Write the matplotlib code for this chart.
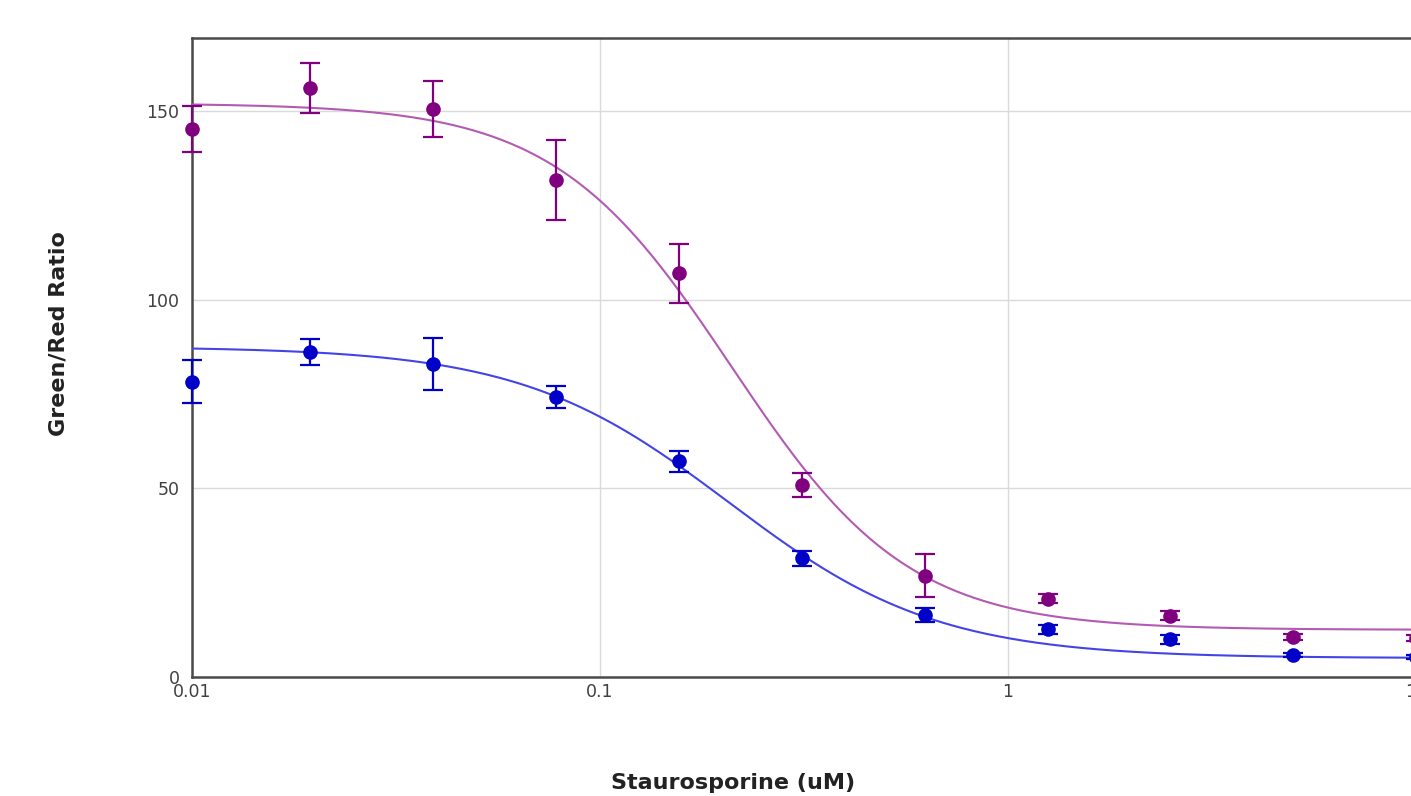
import numpy as np
import matplotlib
matplotlib.use("Agg")
import matplotlib.pyplot as plt
from matplotlib.ticker import FixedLocator, FixedFormatter, NullLocator

# ===== Data =====
conc = [0.01, 0.0195, 0.039, 0.078, 0.156, 0.3125, 0.625, 1.25, 2.5, 5, 10]

purple_mean = [145.2, 156.0, 150.5, 131.7, 107.0, 50.9, 26.8, 20.7, 16.2, 10.6, 10.3]
purple_err = [6.0, 6.6, 7.5, 10.5, 7.8, 3.2, 5.7, 1.2, 1.2, 0.8, 0.8]

blue_mean = [78.2, 86.1, 83.0, 74.2, 57.2, 31.5, 16.4, 12.7, 10.0, 5.8, 5.3]
blue_err = [5.7, 3.5, 6.9, 3.0, 2.8, 2.0, 1.8, 1.2, 1.2, 0.6, 0.6]

# 4PL fit parameters (top, bottom, ic50, hill)
purple_fit = (152.0, 12.5, 0.21, 2.0)
blue_fit = (87.5, 5.0, 0.207, 1.7)

x_ticks = [0.01, 0.1, 1, 10]
x_tick_labels = ["0.01", "0.1", "1", "10"]
y_ticks = [0, 50, 100, 150]


def four_pl(x, top, bottom, ic50, hill):
    return bottom + (top - bottom) / (1 + (x / ic50) ** hill)


# ===== Figure =====
W, H = 1411, 796
fig = plt.figure(figsize=(W / 100, H / 100), dpi=100)
ax = fig.add_axes([192 / W, 1 - 677 / H, (1416 - 192) / W, (677 - 38) / H])

ax.set_xscale("log")
ax.set_xlim(0.01, 10)
ax.set_ylim(0, 169.3)

xs = np.logspace(-2, 1, 400)
series = [
    (purple_mean, purple_err, purple_fit, "#800080", "#b35ab3"),
    (blue_mean, blue_err, blue_fit, "#0000c8", "#4444e6"),
]
for mean, err, fit, mcol, lcol in series:
    ax.plot(xs, four_pl(xs, *fit), color=lcol, lw=1.5, zorder=3)
    ax.errorbar(conc, mean, yerr=err, fmt="o", color=mcol, ms=9.5,
                elinewidth=1.6, capsize=7, capthick=1.6, zorder=4,
                clip_on=False)

# ===== Axes styling =====
ax.xaxis.set_major_locator(FixedLocator(x_ticks))
ax.xaxis.set_major_formatter(FixedFormatter(x_tick_labels))
ax.xaxis.set_minor_locator(NullLocator())
ax.set_yticks(y_ticks)
ax.grid(True, color="#dadada", lw=1)
ax.set_axisbelow(True)

for side in ["left", "bottom", "top"]:
    ax.spines[side].set_color("#4a4a4a")
    ax.spines[side].set_linewidth(1.8)
ax.spines["right"].set_visible(False)

ax.tick_params(axis="both", length=0, labelsize=12.5, colors="#404040")
ax.tick_params(axis="x", pad=4)
ax.tick_params(axis="y", pad=9)

fig.text(733 / W, 1 - 783 / H, "Staurosporine (uM)", ha="center", va="center",
         fontsize=16, fontweight="bold", color="#222222")
fig.text(58 / W, 1 - 334 / H, "Green/Red Ratio", ha="center", va="center",
         rotation=90, fontsize=16, fontweight="bold", color="#222222")

fig.savefig("out.png", dpi=100, facecolor="white")
